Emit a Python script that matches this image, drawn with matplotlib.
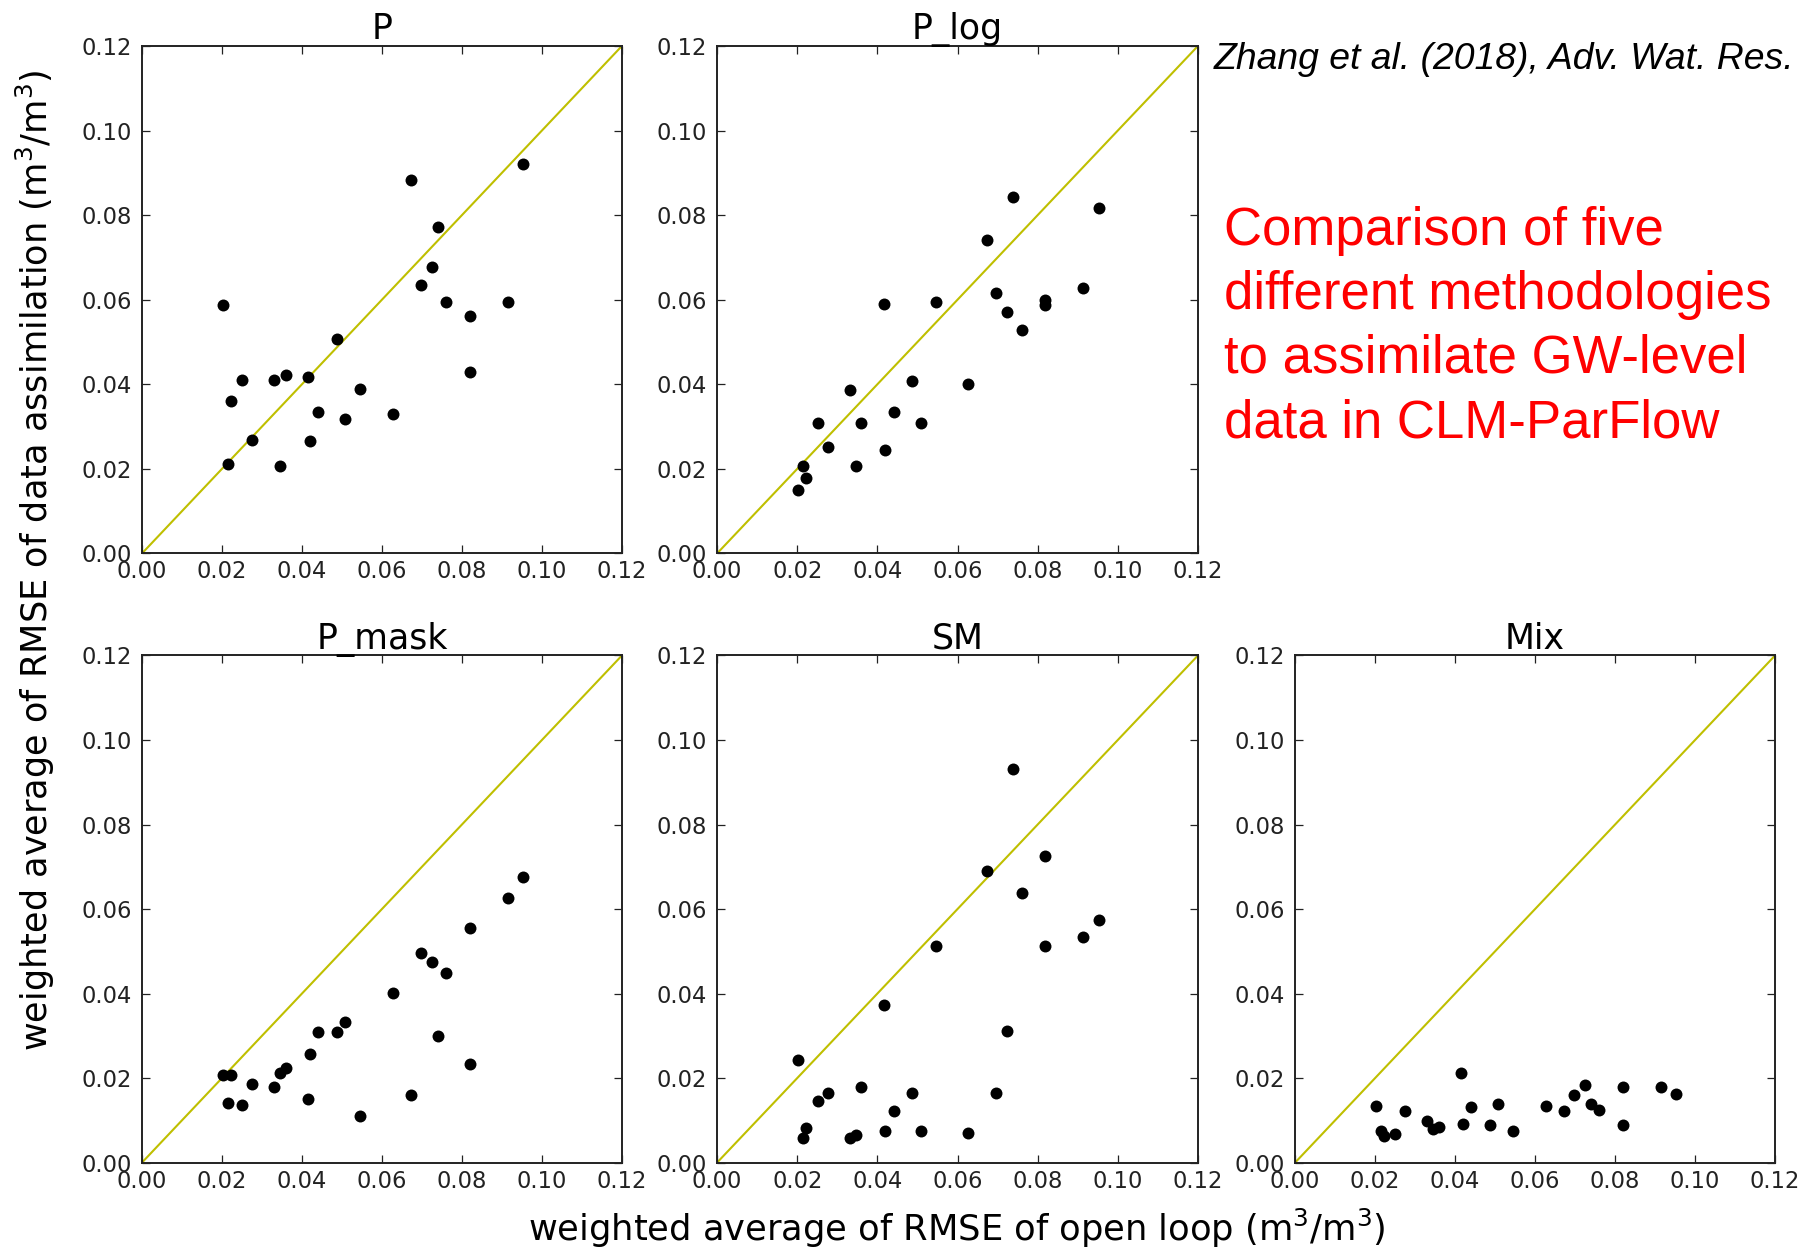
import numpy as np
import matplotlib
matplotlib.use("Agg")
import matplotlib.pyplot as plt
from matplotlib.ticker import FormatStrFormatter

# weighted average RMSE of the open loop (same sites in every panel)
open_loop = [0.0202, 0.0215, 0.0223, 0.0251, 0.0276, 0.0331, 0.0346, 0.0359,
             0.0416, 0.0419, 0.0441, 0.0487, 0.0508, 0.0546, 0.0627, 0.0673,
             0.0697, 0.0724, 0.0739, 0.0760, 0.0819, 0.0819, 0.0914, 0.0953]

# weighted average RMSE after data assimilation, one list per method
da_p = [0.0588, 0.0212, 0.0360, 0.0410, 0.0269, 0.0410, 0.0208, 0.0421,
        0.0417, 0.0265, 0.0334, 0.0508, 0.0318, 0.0390, 0.0329, 0.0882,
        0.0635, 0.0677, 0.0773, 0.0595, 0.0561, 0.0430, 0.0595, 0.0922]
da_p_log = [0.0150, 0.0208, 0.0179, 0.0308, 0.0252, 0.0386, 0.0208, 0.0308,
            0.0591, 0.0245, 0.0334, 0.0407, 0.0308, 0.0595, 0.0401, 0.0740,
            0.0617, 0.0572, 0.0842, 0.0529, 0.0600, 0.0588, 0.0628, 0.0816]
da_p_mask = [0.0207, 0.0140, 0.0207, 0.0137, 0.0187, 0.0180, 0.0213, 0.0223,
             0.0151, 0.0256, 0.0309, 0.0309, 0.0332, 0.0111, 0.0402, 0.0160,
             0.0495, 0.0474, 0.0299, 0.0448, 0.0556, 0.0233, 0.0626, 0.0675]
da_sm = [0.0242, 0.0059, 0.0083, 0.0146, 0.0165, 0.0059, 0.0065, 0.0179,
         0.0373, 0.0076, 0.0123, 0.0165, 0.0076, 0.0512, 0.0069, 0.0689,
         0.0165, 0.0311, 0.0931, 0.0637, 0.0726, 0.0512, 0.0535, 0.0574]
da_mix = [0.0134, 0.0076, 0.0064, 0.0068, 0.0121, 0.0098, 0.0079, 0.0084,
          0.0213, 0.0091, 0.0131, 0.0088, 0.0138, 0.0076, 0.0134, 0.0121,
          0.0160, 0.0183, 0.0138, 0.0125, 0.0088, 0.0180, 0.0178, 0.0162]

titles = ["P", "P_log", "P_mask", "SM", "Mix"]
series = [da_p, da_p_log, da_p_mask, da_sm, da_mix]
ticks = [0.00, 0.02, 0.04, 0.06, 0.08, 0.10, 0.12]

fig = plt.figure(figsize=(18.08, 12.48), dpi=100)

# axes boxes [left, bottom, width, height]
boxes = [[0.0785, 0.5565, 0.2655, 0.4067],
         [0.3966, 0.5565, 0.2660, 0.4067],
         [0.0785, 0.0684, 0.2655, 0.4064],
         [0.3966, 0.0684, 0.2660, 0.4064],
         [0.7163, 0.0684, 0.2655, 0.4064]]

for box, title, da in zip(boxes, titles, series):
    ax = fig.add_axes(box)
    ax.plot([0, 0.12], [0, 0.12], color=(0.75, 0.75, 0.0), lw=1.5, zorder=1)
    ax.plot(open_loop, da, "o", color="black", ms=8.6, mew=0, zorder=2)
    ax.set_xlim(0, 0.12)
    ax.set_ylim(0, 0.12)
    ax.set_xticks(ticks)
    ax.set_yticks(ticks)
    ax.xaxis.set_major_formatter(FormatStrFormatter("%.2f"))
    ax.yaxis.set_major_formatter(FormatStrFormatter("%.2f"))
    ax.tick_params(direction="in", top=True, right=True, length=5.5,
                   width=0.9, labelsize=16.3, colors="#222222")
    ax.tick_params(axis="x", pad=5)
    ax.tick_params(axis="y", pad=7)
    for s in ax.spines.values():
        s.set_linewidth(1.4)
        s.set_color("#222222")
    ax.set_title(title, fontsize=25, pad=5)

fig.text(0.0194, 0.551, "weighted average of RMSE of data assimilation (m$^3$/m$^3$)",
         rotation=90, ha="center", va="center", fontsize=25.3)
fig.text(0.529, 0.016, "weighted average of RMSE of open loop (m$^3$/m$^3$)",
         ha="center", va="center", fontsize=25.4)

fig.text(0.6715, 0.952, "Zhang et al. (2018), Adv. Wat. Res.",
         family="Liberation Sans", style="italic", fontsize=26.9,
         ha="left", va="center")
fig.text(0.677, 0.738,
         "Comparison of five\ndifferent methodologies\nto assimilate GW-level\ndata in CLM-ParFlow",
         family="Liberation Sans", color="red", fontsize=38,
         ha="left", va="center", linespacing=1.36)

fig.savefig("out.png", dpi=100)
